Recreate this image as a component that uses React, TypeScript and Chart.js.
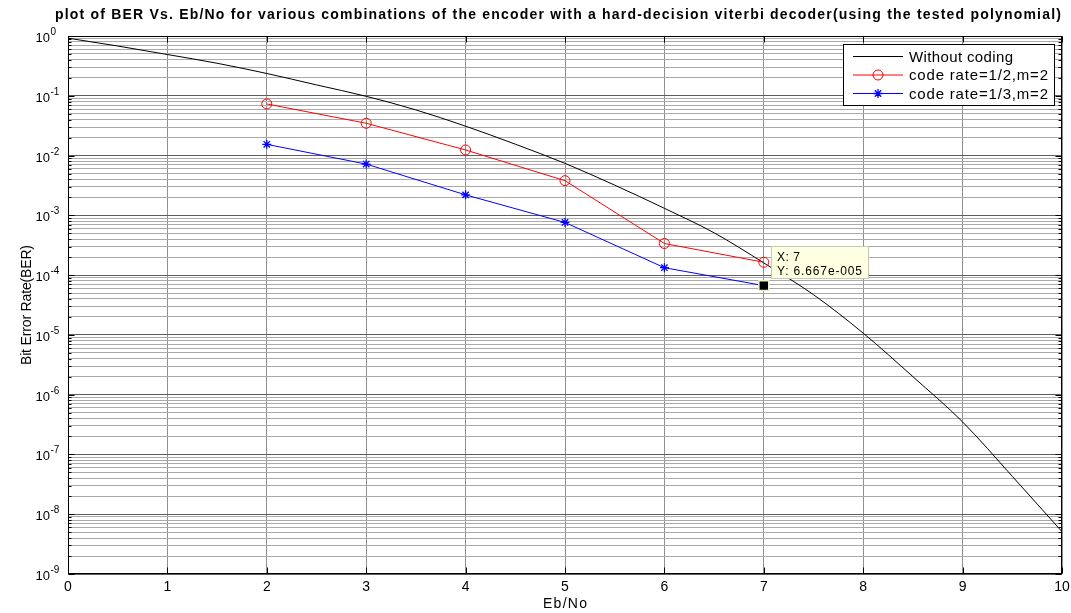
import React, { useEffect, useRef } from 'react';
import { Chart, registerables } from 'chart.js';

Chart.register(...registerables);

const FONT = '"Liberation Sans", Arial, Helvetica, sans-serif';

// ---- data ----
const uncodedEbNo = [0, 0.5, 1, 1.5, 2, 2.5, 3, 3.5, 4, 4.5, 5, 5.5, 6, 6.5, 7, 7.5, 8, 8.5, 9, 9.5, 10];
const uncodedBer = [0.92, 0.68, 0.49, 0.35, 0.236, 0.152, 0.098, 0.058, 0.031, 0.0155, 0.0074, 0.0032, 0.00131, 5.1e-4, 1.6e-4, 4.7e-5, 1.07e-5, 2.0e-6, 3.5e-7, 4.3e-8, 5.1e-9];
const codedEbNo = [2, 3, 4, 5, 6, 7];
const berRate12 = [0.073, 0.0347, 0.0124, 0.0038, 3.38e-4, 1.64e-4];
const berRate13 = [0.0154, 0.0072, 0.0022, 7.6e-4, 1.33e-4, 6.667e-5];
const tipX = 7;
const tipY = 6.667e-5;
const tipLines = ['X: 7', 'Y: 6.667e-005'];

const xTickValues = [0, 1, 2, 3, 4, 5, 6, 7, 8, 9, 10];
const xTickLabels = ['0', '1', '2', '3', '4', '5', '6', '7', '8', '9', '10'];
const yDecadeExps = [-9, -8, -7, -6, -5, -4, -3, -2, -1, 0];
const yMinorMultipliers = [1, 2, 3, 4, 5, 6, 7, 8, 9];

const titleText = 'plot of BER Vs. Eb/No for various combinations of the encoder with a hard-decision viterbi decoder(using the tested polynomial)';
const xAxisTitle = 'Eb/No';
const yAxisTitle = 'Bit Error Rate(BER)';
const legendLabels = ['Without coding', 'code rate=1/2,m=2', 'code rate=1/3,m=2'];
const seriesColors = ['#000000', '#ff0000', '#0000ff'];

// y tick list (1..9 per decade)
const yTickValues: number[] = [];
yDecadeExps.forEach((e) => {
  if (e === 0) {
    yTickValues.push(1);
  } else {
    yMinorMultipliers.forEach((m) => yTickValues.push(parseFloat((m * Math.pow(10, e)).toPrecision(6))));
  }
});

function isDecade(v: number) {
  const l = Math.log10(v);
  return Math.abs(l - Math.round(l)) < 1e-9;
}

function fitText(ctx: CanvasRenderingContext2D, text: string, x: number, y: number, target: number, align: 'left' | 'center') {
  const c: any = ctx;
  c.letterSpacing = '0px';
  const w = ctx.measureText(text).width;
  const sp = text.length > 1 ? (target - w) / (text.length - 1) : 0;
  c.letterSpacing = sp.toFixed(3) + 'px';
  ctx.textAlign = 'left';
  const left = align === 'center' ? x - target / 2 : x;
  ctx.fillText(text, left, y);
  c.letterSpacing = '0px';
}

const decorPlugin = {
  id: 'matlabDecor',
  afterDatasetsDraw(chart: any) {
    const { ctx, chartArea: a, scales } = chart;
    const xs = scales.x;
    const ys = scales.y;
    const L = Math.round(a.left) + 0.5;
    const R = Math.round(a.right) - 0.5;
    const T = Math.round(a.top) + 0.5;
    const B = Math.round(a.bottom) - 0.5;
    ctx.save();

    // axes box
    ctx.strokeStyle = '#000';
    ctx.lineWidth = 1;
    ctx.strokeRect(L, T, R - L, B - T);

    // tick marks
    ctx.beginPath();
    xTickValues.forEach((v) => {
      const px = Math.round(xs.getPixelForValue(v)) + 0.5;
      ctx.moveTo(px, B);
      ctx.lineTo(px, B - 6);
      ctx.moveTo(px, T);
      ctx.lineTo(px, T + 6);
    });
    yTickValues.forEach((v) => {
      const py = Math.round(ys.getPixelForValue(v)) + 0.5;
      const len = isDecade(v) ? 6 : 3;
      ctx.moveTo(L, py);
      ctx.lineTo(L + len, py);
      ctx.moveTo(R, py);
      ctx.lineTo(R - len, py);
    });
    ctx.stroke();

    ctx.fillStyle = '#000';
    // x tick labels
    ctx.font = '14px ' + FONT;
    ctx.textAlign = 'center';
    ctx.textBaseline = 'alphabetic';
    xTickValues.forEach((v, i) => {
      const px = xs.getPixelForValue(v);
      ctx.fillText(xTickLabels[i], px, a.bottom + 17);
    });

    // y tick labels (10^e)
    yDecadeExps.forEach((e) => {
      const py = ys.getPixelForValue(Math.pow(10, e));
      ctx.font = '13px ' + FONT;
      ctx.textAlign = 'right';
      ctx.fillText('10', 50, py + 6);
      ctx.font = '10px ' + FONT;
      ctx.textAlign = 'left';
      ctx.fillText(String(e), 50.5, py - 1);
    });

    // title
    ctx.font = 'bold 14px ' + FONT;
    fitText(ctx, titleText, 55, 19, 1006, 'left');

    // x axis title
    ctx.font = '14px ' + FONT;
    fitText(ctx, xAxisTitle, (a.left + a.right) / 2, a.bottom + 34, 44, 'center');

    // y axis title
    ctx.save();
    ctx.translate(26, (a.top + a.bottom) / 2);
    ctx.rotate(-Math.PI / 2);
    ctx.font = '14px ' + FONT;
    fitText(ctx, yAxisTitle, 0, 5, 120, 'center');
    ctx.restore();

    // legend
    const lx = 843.5, ly = 44.5, lw = 211, lh = 61;
    ctx.fillStyle = '#fff';
    ctx.fillRect(lx, ly, lw, lh);
    ctx.strokeStyle = '#000';
    ctx.lineWidth = 1;
    ctx.strokeRect(lx, ly, lw, lh);
    const rowsY = [56, 74.5, 93];
    const widths = [104, 139, 139];
    legendLabels.forEach((lab, i) => {
      const y = rowsY[i] + 0.5;
      ctx.strokeStyle = seriesColors[i];
      ctx.lineWidth = 1;
      ctx.beginPath();
      ctx.moveTo(853, y);
      ctx.lineTo(903, y);
      ctx.stroke();
      const cx = 878;
      if (i === 1) {
        ctx.beginPath();
        ctx.arc(cx, y, 5, 0, Math.PI * 2);
        ctx.stroke();
      } else if (i === 2) {
        const r = 4.5;
        ctx.lineWidth = 1.3;
        ctx.beginPath();
        ctx.moveTo(cx - r, y); ctx.lineTo(cx + r, y);
        ctx.moveTo(cx, y - r); ctx.lineTo(cx, y + r);
        const d = r * Math.SQRT1_2;
        ctx.moveTo(cx - d, y - d); ctx.lineTo(cx + d, y + d);
        ctx.moveTo(cx - d, y + d); ctx.lineTo(cx + d, y - d);
        ctx.stroke();
      }
      ctx.fillStyle = '#000';
      ctx.font = '15px ' + FONT;
      ctx.textBaseline = 'alphabetic';
      fitText(ctx, lab, 909, rowsY[i] + 5.5, widths[i], 'left');
    });

    // data tip
    const tx = Math.round(xs.getPixelForValue(tipX));
    const ty = Math.round(ys.getPixelForValue(tipY));
    const bx = tx + 7.5, by = ty - 39.5, bw = 97, bh = 32;
    ctx.fillStyle = '#ffffe1';
    ctx.fillRect(bx, by, bw, bh);
    ctx.strokeStyle = '#c8c8b4';
    ctx.lineWidth = 1;
    ctx.strokeRect(bx, by, bw, bh);
    ctx.fillStyle = '#000';
    ctx.font = '12px ' + FONT;
    fitText(ctx, tipLines[0], tx + 13, ty - 25, 23, 'left');
    fitText(ctx, tipLines[1], tx + 13, ty - 11.5, 85, 'left');

    ctx.restore();
  },
};

export default function App() {
  const ref = useRef<HTMLCanvasElement>(null);
  useEffect(() => {
    const canvas = ref.current;
    if (!canvas) return;
    const chart = new Chart(canvas, {
      type: 'line',
      data: {
        datasets: [
          {
            label: legendLabels[0],
            data: uncodedEbNo.map((x, i) => ({ x, y: uncodedBer[i] })),
            borderColor: seriesColors[0],
            borderWidth: 1,
            pointRadius: 0,
            cubicInterpolationMode: 'monotone',
            order: 3,
          },
          {
            label: legendLabels[1],
            data: codedEbNo.map((x, i) => ({ x, y: berRate12[i] })),
            borderColor: seriesColors[1],
            borderWidth: 1,
            pointStyle: 'circle',
            pointRadius: 5,
            pointBorderWidth: 1,
            pointBorderColor: seriesColors[1],
            pointBackgroundColor: 'rgba(0,0,0,0)',
            order: 2,
          },
          {
            label: legendLabels[2],
            data: codedEbNo.map((x, i) => ({ x, y: berRate13[i] })),
            borderColor: seriesColors[2],
            borderWidth: 1,
            pointStyle: 'star',
            pointRadius: 4.5,
            pointBorderWidth: 1.3,
            pointBorderColor: seriesColors[2],
            pointBackgroundColor: seriesColors[2],
            order: 1,
          },
          {
            label: 'datatip',
            data: [{ x: tipX, y: tipY }],
            showLine: false,
            pointStyle: 'rect',
            pointRadius: 7,
            pointBorderWidth: 1.5,
            pointBorderColor: '#f4efc4',
            pointBackgroundColor: '#000000',
            order: 0,
          },
        ],
      },
      options: {
        animation: false,
        responsive: false,
        devicePixelRatio: 1,
        layout: { padding: { left: 68, top: 36, right: 9, bottom: 39 } },
        plugins: {
          legend: { display: false },
          title: { display: false },
          tooltip: { enabled: false },
        },
        events: [],
        scales: {
          x: {
            type: 'linear',
            min: 0,
            max: 10,
            afterBuildTicks: (s: any) => {
              s.ticks = xTickValues.map((v) => ({ value: v }));
            },
            ticks: { display: false },
            grid: { color: '#8f8f8f', lineWidth: 1, drawTicks: false },
            border: { display: false },
          },
          y: {
            type: 'logarithmic',
            min: 1e-9,
            max: 1,
            afterBuildTicks: (s: any) => {
              s.ticks = yTickValues.map((v) => ({ value: v, major: isDecade(v) }));
            },
            ticks: { display: false },
            grid: {
              color: (c: any) => (c.tick && isDecade(c.tick.value) ? '#5e5e5e' : '#aaaaaa'),
              lineWidth: 1,
              drawTicks: false,
            },
            border: { display: false },
          },
        },
      } as any,
      plugins: [decorPlugin],
    });
    return () => chart.destroy();
  }, []);
  return (
    <div style={{ position: 'absolute', left: 0, top: 0, width: 1071, height: 613, background: '#fff' }}>
      <canvas ref={ref} width={1071} height={613} style={{ display: 'block', width: 1071, height: 613 }} />
    </div>
  );
}
